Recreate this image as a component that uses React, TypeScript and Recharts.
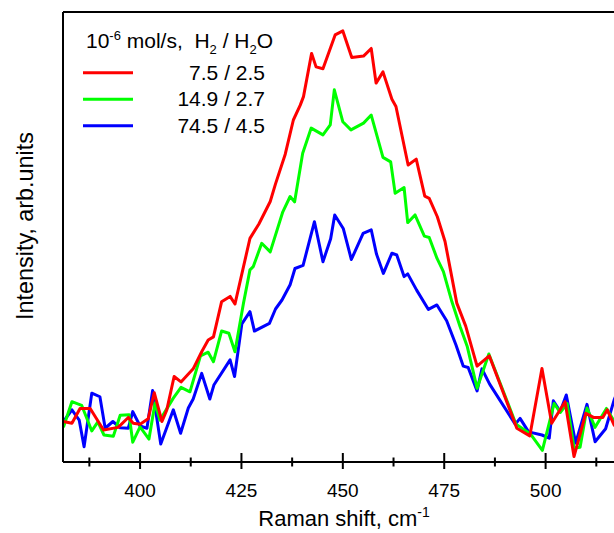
import { LineChart, Line, XAxis, YAxis, ReferenceLine } from 'recharts'

// Raman shift (cm-1) and intensity (arb. units, 0..100 over the frame height) per series
const redX = [381.1, 383.2, 385.2, 387.7, 391.0, 394.6, 397.1, 398.3, 400.0, 402.0, 403.5, 405.4, 406.6, 408.4, 410.1, 413.1, 415.2, 416.8, 418.1, 420.1, 422.2, 423.4, 427.1, 429.3, 432.1, 433.4, 435.8, 437.8, 439.5, 440.3, 442.3, 443.4, 445.1, 448.1, 450.0, 452.2, 455.1, 457.0, 458.2, 459.9, 462.1, 463.1, 466.1, 468.1, 470.2, 471.3, 473.3, 475.2, 478.1, 480.3, 483.1, 486.1, 492.9, 496.1, 499.1, 501.5, 504.8, 507.0, 509.9, 511.8, 514.1, 515.2, 516.9, 518.4]
const redY = [9.0, 8.6, 11.9, 11.9, 7.1, 7.7, 9.9, 8.6, 8.4, 9.6, 15.4, 9.0, 11.6, 19.0, 17.8, 20.7, 24.5, 27.1, 27.8, 35.6, 36.8, 35.1, 49.7, 52.9, 57.9, 61.8, 68.4, 76.0, 79.3, 81.2, 90.8, 87.8, 87.4, 94.9, 95.8, 89.9, 90.2, 91.9, 84.2, 86.7, 80.6, 79.0, 66.0, 67.3, 59.1, 58.6, 54.5, 49.0, 35.3, 30.2, 21.3, 23.6, 7.5, 5.8, 20.8, 8.6, 13.4, 1.2, 10.8, 9.9, 9.9, 11.6, 8.2, 6.7]

const greenX = [381.1, 383.2, 385.6, 388.1, 389.6, 391.1, 393.4, 395.1, 397.3, 398.2, 400.0, 402.2, 403.7, 404.9, 408.2, 410.1, 412.3, 414.9, 416.8, 418.1, 420.1, 421.9, 423.4, 425.5, 427.1, 427.9, 430.0, 432.1, 435.2, 437.0, 438.1, 440.1, 442.2, 445.1, 446.9, 447.9, 450.0, 452.0, 455.1, 457.0, 459.9, 461.8, 462.9, 465.1, 466.0, 467.8, 470.1, 471.3, 473.2, 474.8, 476.9, 478.9, 480.7, 483.1, 486.0, 492.7, 496.2, 499.2, 502.1, 503.6, 505.3, 507.0, 508.5, 510.2, 512.2, 515.0, 516.9, 517.9]
const greenY = [7.7, 13.4, 12.6, 6.9, 8.9, 6.0, 5.7, 10.4, 10.5, 4.4, 7.8, 5.1, 13.1, 9.3, 14.2, 16.6, 15.6, 23.6, 24.4, 22.3, 29.1, 28.6, 24.5, 35.3, 42.7, 43.4, 48.6, 46.7, 55.6, 59.0, 57.8, 68.6, 74.2, 72.7, 74.9, 82.7, 75.6, 73.8, 75.3, 77.1, 67.7, 66.7, 59.7, 61.0, 53.2, 54.9, 50.2, 49.9, 45.3, 42.3, 35.6, 30.1, 25.6, 16.4, 24.0, 8.4, 6.3, 2.6, 13.0, 11.0, 13.0, 3.1, 3.3, 12.0, 7.7, 11.9, 9.1, 7.6]

const blueX = [381.1, 383.2, 385.0, 386.2, 388.1, 390.1, 391.4, 393.3, 395.1, 397.1, 398.2, 400.0, 401.7, 403.1, 405.1, 408.2, 410.0, 411.9, 413.1, 415.2, 417.2, 418.2, 422.2, 423.3, 425.1, 427.1, 428.2, 431.9, 433.4, 435.0, 437.0, 438.2, 440.2, 443.0, 445.1, 447.0, 448.0, 450.1, 452.1, 455.0, 457.0, 458.3, 460.0, 462.1, 463.3, 465.1, 466.0, 468.2, 471.1, 473.2, 475.6, 477.9, 479.7, 480.9, 483.1, 484.3, 486.2, 492.5, 493.7, 495.8, 499.1, 500.9, 501.9, 503.6, 505.1, 507.4, 510.2, 512.2, 514.8, 516.9, 517.9]
const blueY = [9.0, 11.6, 9.3, 3.4, 15.3, 14.5, 7.5, 9.0, 7.6, 7.5, 11.2, 8.0, 7.5, 15.9, 4.0, 11.6, 6.4, 12.0, 14.0, 19.7, 14.0, 17.1, 22.7, 19.0, 30.7, 33.4, 29.1, 30.8, 34.0, 36.0, 39.4, 43.0, 43.7, 53.4, 44.5, 49.6, 54.9, 51.9, 45.0, 50.8, 51.6, 46.2, 41.9, 46.4, 46.0, 41.2, 41.8, 38.2, 33.9, 34.9, 31.4, 26.0, 21.3, 21.0, 15.8, 20.7, 17.3, 8.4, 9.7, 6.7, 6.0, 5.3, 13.6, 11.2, 14.9, 4.2, 12.8, 4.5, 7.4, 13.8, 16.0]

// the frame runs past the right edge of the picture, so ticks stop at 512.5
const xTicks = [387.5, 400, 412.5, 425, 437.5, 450, 462.5, 475, 487.5, 500, 512.5]

const toRows = (xs: number[], ys: number[]) => xs.map((x, i) => ({ x, y: ys[i] }))

// drawn blue first so red ends up on top, like the original
const series = [
  { key: 'blue', label: '74.5 / 4.5', color: '#0000ff', data: toRows(blueX, blueY) },
  { key: 'green', label: '14.9 / 2.7', color: '#00ff00', data: toRows(greenX, greenY) },
  { key: 'red', label: '7.5 / 2.5', color: '#ff0000', data: toRows(redX, redY) },
]

const FONT = '"Liberation Sans", Arial, sans-serif'

function RamanTick(props: any) {
  const { x, y, payload } = props
  const major = payload.value % 25 === 0
  return (
    <g>
      <line x1={x} x2={x} y1={y - (major ? 9 : 4.5)} y2={y + (major ? 7 : 4.5)} stroke="#000" strokeWidth={2} />
      {major && (
        <text x={x} y={y + 35} textAnchor="middle" fontSize={19} fontFamily={FONT} fill="#000">
          {payload.value}
        </text>
      )}
    </g>
  )
}

export default function App() {
  const legendRows = [...series].reverse()
  return (
    <div style={{ position: 'absolute', left: 0, top: 0, width: 614, height: 533, overflow: 'hidden', background: '#fff' }}>
      <LineChart width={660} height={533} margin={{ top: 12, right: 13, bottom: 0, left: 0 }}>
        <XAxis
          dataKey="x"
          type="number"
          domain={[381, 525]}
          ticks={xTicks}
          interval={0}
          allowDataOverflow
          height={71}
          tickSize={0}
          tickMargin={0}
          tickLine={false}
          tick={<RamanTick />}
          axisLine={{ stroke: '#000', strokeWidth: 2 }}
        />
        <YAxis
          type="number"
          domain={[0, 100]}
          width={63}
          tick={false}
          tickLine={false}
          axisLine={{ stroke: '#000', strokeWidth: 2 }}
        />
        {/* top frame line */}
        <ReferenceLine y={100} stroke="#000" strokeWidth={2} />
        {series.map(s => (
          <Line
            key={s.key}
            data={s.data}
            dataKey="y"
            stroke={s.color}
            strokeWidth={3}
            strokeLinejoin="round"
            dot={false}
            activeDot={false}
            isAnimationActive={false}
          />
        ))}
      </LineChart>

      <svg width={614} height={533} style={{ position: 'absolute', left: 0, top: 0, pointerEvents: 'none' }} fontFamily={FONT} fill="#000">
        <text transform="translate(33,226) rotate(-90)" textAnchor="middle" fontSize={24} textLength={188} lengthAdjust="spacingAndGlyphs">
          Intensity, arb.units
        </text>
        <text x={344} y={526} textAnchor="middle" fontSize={22}>
          Raman shift, cm<tspan dy={-9} fontSize={14}>-1</tspan>
        </text>

        <text x={86} y={48} fontSize={21}>
          10<tspan dy={-8} fontSize={13}>-6</tspan>
          <tspan dy={8}>{'\u00a0mol/s,\u00a0\u00a0H'}</tspan>
          <tspan dy={6} fontSize={13}>2</tspan>
          <tspan dy={-6}>{'\u00a0/\u00a0H'}</tspan>
          <tspan dy={6} fontSize={13}>2</tspan>
          <tspan dy={-6}>O</tspan>
        </text>
        {legendRows.map((s, i) => (
          <g key={s.key}>
            <line x1={83} x2={133} y1={72.7 + i * 26.5} y2={72.7 + i * 26.5} stroke={s.color} strokeWidth={3} />
            <text x={265} y={80 + i * 26.4} textAnchor="end" fontSize={21}>
              {s.label}
            </text>
          </g>
        ))}
      </svg>
    </div>
  )
}
